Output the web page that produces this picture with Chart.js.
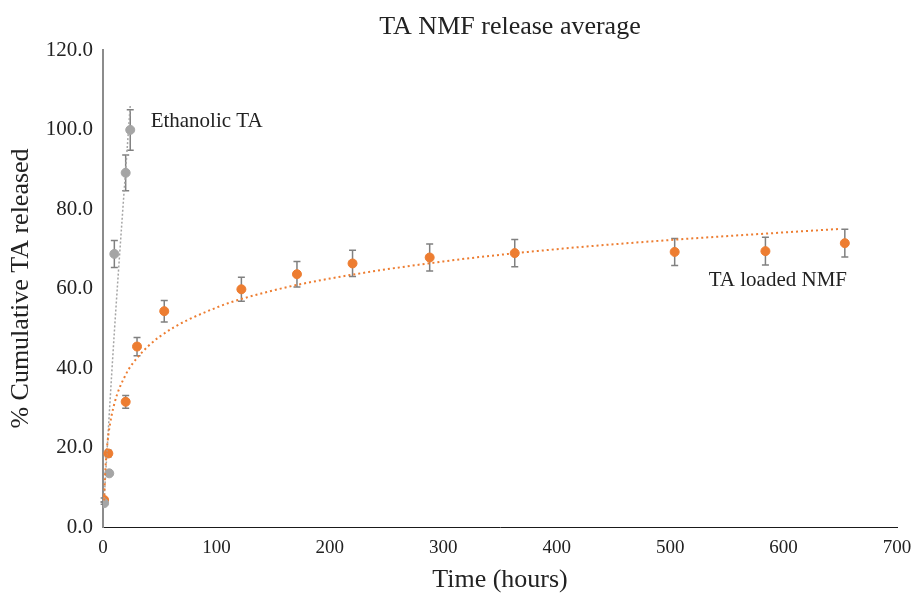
<!DOCTYPE html>
<html>
<head>
<meta charset="utf-8">
<script src="https://cdn.jsdelivr.net/npm/chart.js@4.4.1/dist/chart.umd.min.js"></script>
<style>
  html, body { margin: 0; padding: 0; background: #ffffff; }
  #wrap { width: 917px; height: 596px; }
</style>
</head>
<body>
<div id="wrap"><canvas id="chart" width="917" height="596"></canvas></div>
<script>
const nmfTime = [1, 4.7, 20, 30, 54, 122, 171, 220, 288, 363, 504, 584, 654];
const nmfRelease = [6.8, 18.5, 31.5, 45.4, 54.3, 59.8, 63.6, 66.3, 67.8, 68.9, 69.2, 69.4, 71.4];
const nmfError = [0.5, 0.8, 1.6, 2.3, 2.7, 3.0, 3.2, 3.3, 3.4, 3.4, 3.4, 3.5, 3.5];

const ethTime = [1, 5.5, 10, 20, 24];
const ethRelease = [6.0, 13.5, 68.7, 89.1, 99.9];
const ethError = [0.3, 0.5, 3.4, 4.5, 5.1];

// trendlines
const nmfTrendTime = [1, 2, 3, 5, 10, 20, 30, 50, 100, 150, 200, 300, 400, 500, 600, 650];
const nmfTrendValue = [6.7, 14, 18.3, 23.7, 31, 38.3, 42.5, 47.9, 55.2, 59.5, 62.5, 66.8, 69.9, 72.2, 74.1, 75.0];
const ethTrendTime = [1, 10, 24];
const ethTrendValue = [7, 49, 106];

const xTicks = [0, 100, 200, 300, 400, 500, 600, 700];
const yTicks = [0, 20, 40, 60, 80, 100, 120];

const chartTitle = "TA NMF release average";
const seriesLabels = [
  { text: "Ethanolic TA", x: 42, y: 102 },
  { text: "TA loaded NMF", x: 534, y: 62 }
];

const orange = "#ED7D31";
const grey = "#A5A5A5";
const barColor = "#808080";
const serif = "'Liberation Serif', 'Times New Roman', serif";

function toPoints(xs, ys) {
  return xs.map((x, i) => ({ x: x, y: ys[i] }));
}

const errorBars = {
  id: "errorBars",
  beforeDatasetsDraw(chart) {
    const ctx = chart.ctx;
    const xs = chart.scales.x;
    const ys = chart.scales.y;
    const sets = [[nmfTime, nmfRelease, nmfError], [ethTime, ethRelease, ethError]];
    ctx.save();
    ctx.strokeStyle = barColor;
    ctx.lineWidth = 1.5;
    sets.forEach(([t, v, e]) => {
      t.forEach((time, i) => {
        const px = xs.getPixelForValue(time);
        const top = ys.getPixelForValue(v[i] + e[i]);
        const bot = ys.getPixelForValue(v[i] - e[i]);
        ctx.beginPath();
        ctx.moveTo(px, top);
        ctx.lineTo(px, bot);
        ctx.moveTo(px - 3.5, top);
        ctx.lineTo(px + 3.5, top);
        ctx.moveTo(px - 3.5, bot);
        ctx.lineTo(px + 3.5, bot);
        ctx.stroke();
      });
    });
    ctx.restore();
  }
};

// series names next to the curves, and the title centred over the plot
const textLabels = {
  id: "textLabels",
  afterDatasetsDraw(chart) {
    const ctx = chart.ctx;
    const area = chart.chartArea;
    ctx.save();
    ctx.fillStyle = "#222222";
    ctx.textBaseline = "middle";
    ctx.font = "26px " + serif;
    ctx.textAlign = "center";
    ctx.fillText(chartTitle, (area.left + area.right) / 2 + 10, 27);
    ctx.font = "21px " + serif;
    ctx.textAlign = "left";
    seriesLabels.forEach((l) => {
      ctx.fillText(l.text, chart.scales.x.getPixelForValue(l.x), chart.scales.y.getPixelForValue(l.y));
    });
    ctx.restore();
  }
};

let chart = new Chart(document.querySelector("#chart"), {
  type: "scatter",
  data: {
    datasets: [
      {
        label: "TA loaded NMF trend",
        data: toPoints(nmfTrendTime, nmfTrendValue),
        showLine: true,
        borderColor: orange,
        borderWidth: 2,
        borderDash: [2, 3],
        pointRadius: 0,
        cubicInterpolationMode: "monotone"
      },
      {
        label: "Ethanolic TA trend",
        data: toPoints(ethTrendTime, ethTrendValue),
        showLine: true,
        borderColor: grey,
        borderWidth: 1.5,
        borderDash: [2, 2],
        pointRadius: 0,
        cubicInterpolationMode: "monotone"
      },
      {
        label: "Ethanolic TA",
        data: toPoints(ethTime, ethRelease),
        backgroundColor: grey,
        borderColor: grey,
        pointRadius: 4.5
      },
      {
        label: "TA loaded NMF",
        data: toPoints(nmfTime, nmfRelease),
        backgroundColor: orange,
        borderColor: orange,
        pointRadius: 4.5
      }
    ]
  },
  options: {
    responsive: false,
    animation: false,
    layout: { padding: { left: 0, right: 20, top: 50, bottom: 0 } },
    plugins: {
      legend: { display: false },
      tooltip: { enabled: false },
      title: { display: false }
    },
    scales: {
      x: {
        type: "linear",
        min: 0,
        max: 700,
        afterBuildTicks: (s) => { s.ticks = xTicks.map((v) => ({ value: v })); },
        afterFit: (s) => {
          s.height = 69;
          s.paddingLeft = 0;
          s.paddingRight = 0;
        },
        grid: { display: false, drawTicks: false },
        border: { display: true, color: "#1a1a1a", width: 1 },
        ticks: {
          color: "#222222",
          padding: 10,
          maxRotation: 0,
          font: { family: serif, size: 19 }
        },
        title: {
          display: true,
          text: "Time (hours)",
          color: "#222222",
          font: { family: serif, size: 26 },
          padding: { top: 0, bottom: 0 }
        }
      },
      y: {
        min: 0,
        max: 120,
        afterBuildTicks: (s) => { s.ticks = yTicks.map((v) => ({ value: v })); },
        afterFit: (s) => { s.width = 103; },
        grid: { display: false, drawTicks: false },
        border: { display: true, color: "#8c8c8c", width: 2 },
        ticks: {
          color: "#222222",
          padding: 10,
          font: { family: serif, size: 21 },
          callback: (v) => Number(v).toFixed(1)
        },
        title: {
          display: true,
          text: "% Cumulative TA released",
          color: "#222222",
          font: { family: serif, size: 26 },
          padding: { top: 6, bottom: 0 }
        }
      }
    }
  },
  plugins: [errorBars, textLabels]
});
</script>
</body>
</html>
